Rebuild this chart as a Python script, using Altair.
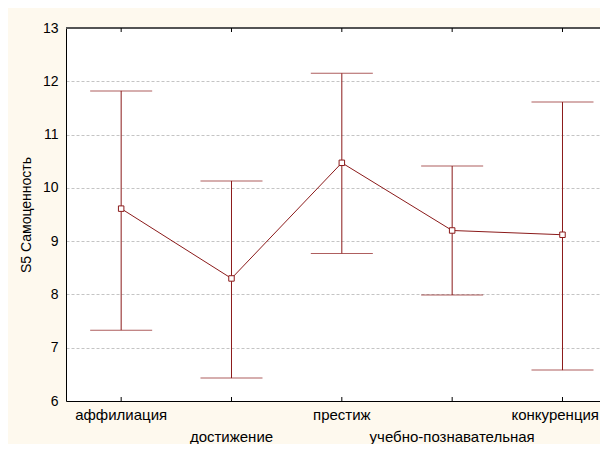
import altair as alt
import pandas as pd

categories = ["аффилиация", "достижение", "престиж", "учебно-познавательная", "конкуренция"]
means = [9.61, 8.30, 10.47, 9.20, 9.12]
upper = [11.82, 10.13, 12.15, 10.41, 11.61]
lower = [7.33, 6.43, 8.77, 7.99, 6.58]

df = pd.DataFrame({
    "cat": categories,
    "idx": list(range(len(categories))),
    "mean": means,
    "hi": upper,
    "lo": lower,
})

MAROON = "#8b1a1a"
FONT = "Arial"
W, H = 534, 373
LAST = len(categories) - 1

xs = alt.Scale(domain=[-0.5, 4.34], nice=False, zero=False)
ys = alt.Scale(domain=[6, 13], nice=False, zero=False)

base = alt.Chart(df)

x_enc = alt.X("idx:Q", scale=xs,
              axis=alt.Axis(labels=False, ticks=False, grid=False, title=None,
                            domainColor="black", domainWidth=1))
y_enc = alt.Y("mean:Q", scale=ys,
              axis=alt.Axis(values=[6, 7, 8, 9, 10, 11, 12, 13], format="d", ticks=False,
                            grid=True, gridColor="#c4c4c4", gridDash=[3, 2],
                            domainColor="black", labelFont=FONT, labelFontSize=14,
                            labelColor="black", labelPadding=8,
                            title="S5 Самоценность", titleFont=FONT,
                            titleFontSize=14, titleFontWeight="normal",
                            titleColor="black", titlePadding=9))

bars = base.mark_rule(color=MAROON, strokeWidth=1).encode(
    x=x_enc, y=alt.Y("lo:Q", scale=ys), y2="hi:Q")
cap_hi = base.mark_tick(orient="horizontal", size=62, thickness=1, color=MAROON).encode(
    x=alt.X("idx:Q", scale=xs), y=alt.Y("hi:Q", scale=ys))
cap_lo = base.mark_tick(orient="horizontal", size=62, thickness=1, color=MAROON).encode(
    x=alt.X("idx:Q", scale=xs), y=alt.Y("lo:Q", scale=ys))
line = base.mark_line(color=MAROON, strokeWidth=1).encode(
    x=alt.X("idx:Q", scale=xs), y=y_enc)
pts = base.mark_point(shape="square", size=30, filled=True, fill="white",
                      stroke=MAROON, strokeWidth=1, opacity=1).encode(
    x=alt.X("idx:Q", scale=xs), y=alt.Y("mean:Q", scale=ys))

top_line = base.mark_rule(color="#555555", strokeWidth=1.5).encode(
    x=alt.value(0), x2=alt.value(W), y=alt.value(0))
top_ticks = base.mark_rule(color="black", strokeWidth=1).encode(
    x=alt.X("idx:Q", scale=xs), y=alt.value(0), y2=alt.value(4))
bot_ticks = base.mark_rule(color="black", strokeWidth=1).encode(
    x=alt.X("idx:Q", scale=xs), y=alt.value(H - 4), y2=alt.value(H))

labels0 = base.transform_filter(f"datum.idx % 2 == 0 && datum.idx < {LAST}").mark_text(
    font=FONT, fontSize=15, color="black", baseline="middle").encode(
    x=alt.X("idx:Q", scale=xs), y=alt.value(H + 14), text="cat:N")
labels1 = base.transform_filter("datum.idx % 2 == 1").mark_text(
    font=FONT, fontSize=15, color="black", baseline="middle").encode(
    x=alt.X("idx:Q", scale=xs), y=alt.value(H + 36), text="cat:N")
labels_last = base.transform_filter(f"datum.idx == {LAST}").mark_text(
    font=FONT, fontSize=15, color="black", baseline="middle", align="right").encode(
    x=alt.value(W - 1), y=alt.value(H + 14), text="cat:N")

chart = alt.layer(
    bars, line, cap_hi, cap_lo, pts, top_line, top_ticks, bot_ticks,
    labels0, labels1, labels_last
).properties(
    width=W, height=H,
    autosize=alt.AutoSizeParams(type="none"),
    padding={"left": 58, "top": 20, "right": 0, "bottom": 43},
    background="#fef9ee",
).configure_view(stroke=None, fill="white")

chart.save("out.html", embed_options={"renderer": "svg", "actions": False})
